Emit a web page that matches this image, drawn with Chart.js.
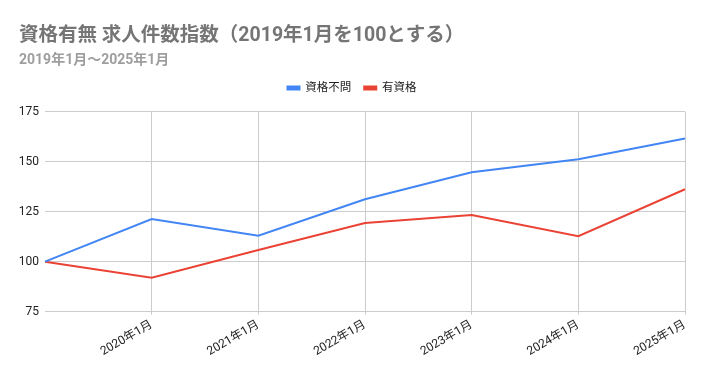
<!DOCTYPE html>
<html>
<head>
<meta charset="utf-8">
<script src="https://cdn.jsdelivr.net/npm/chart.js@4"></script>
<style>
  html, body { margin: 0; padding: 0; background: #fff; }
  #wrap { width: 705px; height: 371px; }
</style>
</head>
<body>
<div id="wrap"><canvas id="jobChart"></canvas></div>
<script>
// Data
const months = ['2019年1月', '2020年1月', '2021年1月', '2022年1月', '2023年1月', '2024年1月', '2025年1月'];
const noQualification = [100, 121.3, 113.0, 131.2, 144.7, 151.2, 161.6];
const withQualification = [100, 92.0, 105.8, 119.3, 123.3, 112.7, 136.2];
const yTicks = [75, 100, 125, 150, 175];

const fontFamily = "Roboto, 'Noto Sans CJK JP', sans-serif";
const ctx = document.getElementById('jobChart').getContext('2d');

// Add a bit of room under the legend, like the original
const legendSpacing = {
    id: 'legendSpacing',
    beforeInit(chart) {
        const origFit = chart.legend.fit;
        chart.legend.fit = function () {
            origFit.call(this);
            this.height += 8;
        };
    },
};

new Chart(ctx, {
    type: 'line',
    data: {
        labels: months,
        datasets: [
            {
                label: '資格不問',
                data: noQualification,
                borderColor: '#4285F4',
                backgroundColor: '#4285F4',
                borderWidth: 2,
                pointRadius: 0,
                tension: 0,
            },
            {
                label: '有資格',
                data: withQualification,
                borderColor: '#EA4335',
                backgroundColor: '#EA4335',
                borderWidth: 2,
                pointRadius: 0,
                tension: 0,
            },
        ],
    },
    plugins: [legendSpacing],
    options: {
        responsive: true,
        maintainAspectRatio: false,
        animation: false,
        layout: { padding: { left: 19, right: 20, top: 10, bottom: 9 } },
        plugins: {
            title: {
                display: true,
                text: '資格有無 求人件数指数（2019年1月を100とする）',
                align: 'start',
                color: '#757575',
                font: { family: fontFamily, size: 19.5, weight: 'bold' },
                padding: { top: 14, bottom: 5 },
            },
            subtitle: {
                display: true,
                text: '2019年1月～2025年1月',
                align: 'start',
                color: '#9e9e9e',
                font: { family: fontFamily, size: 14, weight: 'bold' },
                padding: { bottom: 0 },
            },
            legend: {
                position: 'top',
                labels: {
                    boxWidth: 12,
                    boxHeight: 3,
                    padding: 13,
                    color: '#222',
                    font: { family: fontFamily, size: 11.5 },
                },
            },
            tooltip: { enabled: false },
        },
        scales: {
            x: {
                offset: false,
                border: { display: false },
                grid: {
                    color: c => (c.index === 0 ? 'rgba(0,0,0,0)' : '#cccccc'),
                    tickLength: 3,
                },
                ticks: {
                    color: '#222',
                    maxRotation: 30,
                    minRotation: 30,
                    autoSkip: false,
                    font: { family: fontFamily, size: 12 },
                    callback: function (val, i) { return i === 0 ? '' : months[i]; },
                },
            },
            y: {
                min: 75,
                max: 175,
                border: { display: false },
                afterBuildTicks: axis => { axis.ticks = yTicks.map(v => ({ value: v })); },
                afterFit: axis => { axis.width = 26; },
                grid: { color: '#cccccc', drawTicks: false },
                ticks: {
                    color: '#222',
                    padding: 6,
                    font: { family: fontFamily, size: 12 },
                },
            },
        },
    },
});
</script>
</body>
</html>
